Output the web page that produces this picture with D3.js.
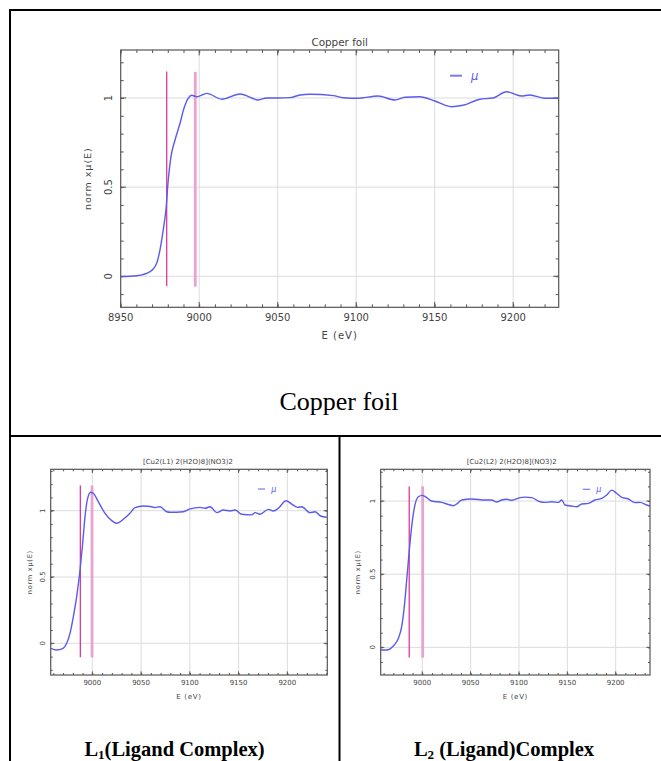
<!DOCTYPE html>
<html>
<head>
<meta charset="utf-8">
<script src="https://cdn.jsdelivr.net/npm/d3@7"></script>
<style>
  html, body { margin: 0; padding: 0; background: #fff; }
  svg { display: block; }
</style>
</head>
<body>
<svg id="chart" width="661" height="761"></svg>
<script>
// ---------------- DATA ----------------
const cuTitle = "Copper foil";
const cuE  = [8950, 8960.2, 8968.7, 8972.9, 8975, 8977.1, 8978.8, 8980.3, 8982, 8984.6, 8987.8, 8990.3, 8993, 8995.2, 8998.4, 9004.8, 9014.3, 9026, 9037.6, 9043, 9050, 9058, 9064.2, 9070.5, 9085.4, 9091.7, 9100.7, 9114, 9124.7, 9131, 9140.6, 9150.1, 9160.7, 9168, 9178.8, 9187.3, 9195.8, 9205.3, 9210.6, 9220.2, 9228.6];
const cuMu = [-0.002, 0.003, 0.026, 0.073, 0.147, 0.26, 0.372, 0.54, 0.67, 0.764, 0.858, 0.942, 0.998, 1.015, 1.007, 1.026, 0.993, 1.022, 0.989, 1.0, 1.0, 1.002, 1.017, 1.021, 1.013, 1.001, 0.998, 1.011, 0.989, 1.004, 1.007, 0.983, 0.951, 0.959, 0.993, 1.0, 1.035, 1.011, 1.017, 0.998, 0.998];
const cuEdges = [8979.3, 8997.5];

const l1Title = "[Cu2(L1) 2(H2O)8](NO3)2";
const l1E  = [8957.6, 8963.1, 8970, 8973.7, 8977.1, 8980.5, 8983.9, 8987.4, 8990.1, 8992.5, 8994.8, 8998.3, 9001, 9006.1, 9013, 9019.9, 9025, 9031.8, 9038.6, 9043.8, 9052.3, 9060.9, 9064.3, 9069.4, 9076.2, 9079.7, 9093.3, 9100.2, 9110.5, 9115.6, 9120.8, 9127.6, 9134.4, 9141.3, 9146.4, 9153.3, 9163.5, 9166.9, 9172, 9180.6, 9185.7, 9190.8, 9198.7, 9204.5, 9210.7, 9214.8, 9223.3, 9228.4, 9234.2, 9240.4];
const l1Mu = [-0.038, -0.05, -0.038, 0, 0.075, 0.2, 0.35, 0.553, 0.754, 0.955, 1.08, 1.139, 1.131, 1.068, 0.98, 0.925, 0.905, 0.935, 0.98, 1.023, 1.035, 1.03, 1.023, 1.03, 0.992, 0.988, 0.992, 1.013, 1.025, 1.018, 1.03, 0.985, 1.005, 0.998, 1.005, 0.973, 0.968, 0.985, 0.973, 1.01, 0.998, 1.018, 1.075, 1.05, 1.025, 1.03, 0.985, 0.992, 0.96, 0.95];
const l1Edges = [8987.7, 8999.7];

const l2Title = "[Cu2(L2) 2(H2O)8](NO3)2";
const l2E  = [8957, 8963.2, 8970, 8975.2, 8978.7, 8981.4, 8983.9, 8986.3, 8989, 8991.7, 8995.9, 9000, 9003.5, 9009.7, 9020.1, 9028.7, 9032.1, 9035.6, 9040.8, 9051.1, 9064.9, 9071.8, 9077, 9082.2, 9087.3, 9092.5, 9101, 9106.2, 9113.2, 9121.7, 9126.9, 9133.8, 9140.7, 9144.2, 9147.6, 9154.5, 9159.7, 9164.9, 9171.7, 9178.6, 9185.5, 9190.7, 9195.9, 9201, 9206.3, 9213.1, 9220, 9225.2, 9232.1, 9235.5];
const l2Mu = [-0.018, -0.018, 0.009, 0.061, 0.141, 0.278, 0.46, 0.643, 0.824, 0.95, 1.029, 1.039, 1.029, 1.0, 0.991, 0.973, 0.968, 0.98, 1.007, 1.014, 1.007, 1.007, 0.993, 1.007, 1.012, 1.005, 1.023, 1.027, 1.023, 0.995, 0.991, 0.995, 0.991, 1.007, 0.973, 0.966, 0.961, 0.98, 0.984, 1.007, 1.018, 1.041, 1.075, 1.053, 1.025, 1.014, 0.989, 0.991, 0.973, 0.966];
const l2Edges = [8986.5, 9000.4];

const xTickValues = [8950, 9000, 9050, 9100, 9150, 9200];
const yTickValues = [0, 0.5, 1];
const yTickLabels = ["0", "0.5", "1"];
const xAxisLabel = "E (eV)";
const yAxisLabel = "norm x\u03bc(E)";
const legendLabel = "\u03bc";
const captions = ["Copper foil", "(Ligand Complex)", " (Ligand)Complex"];

// ---------------- DRAW ----------------
const svg = d3.select("#chart");
svg.append("rect").attr("width", 661).attr("height", 761).attr("fill", "#fff");

const lineColor = "#5a5af0";
const edgeColor1 = "#e0369e";
const edgeColor2 = "#e9a2d2";
const frameColor = "#555";
const gridColor = "#dcdcdc";
const textColor = "#444";
const fontFam = "'DejaVu Sans', sans-serif";

function panel(cfg) {
  const x = d3.scaleLinear().domain(cfg.xDomain).range([cfg.x0, cfg.x1]);
  const y = d3.scaleLinear().domain(cfg.yDomain).range([cfg.y1, cfg.y0]);
  const g = svg.append("g");
  const xt = xTickValues.filter(v => v >= cfg.xDomain[0] - 0.5 && v <= cfg.xDomain[1]);

  // grid
  g.append("g").selectAll("line.gx").data(xt.filter(v => v > cfg.xDomain[0] + 1)).join("line")
    .attr("x1", d => x(d)).attr("x2", d => x(d)).attr("y1", cfg.y0).attr("y2", cfg.y1)
    .attr("stroke", gridColor).attr("stroke-width", 1);
  g.append("g").selectAll("line.gy").data(yTickValues).join("line")
    .attr("y1", d => y(d)).attr("y2", d => y(d)).attr("x1", cfg.x0).attr("x2", cfg.x1)
    .attr("stroke", gridColor).attr("stroke-width", 1);

  // minor / major ticks via axes (inward)
  const minorX = d3.range(Math.ceil(cfg.xDomain[0] / 10) * 10, cfg.xDomain[1], 10);
  const minorY = d3.range(-0.2, 1.35, 0.1).map(v => +v.toFixed(2)).filter(v => v > cfg.yDomain[0] && v < cfg.yDomain[1]);
  const tk = cfg.tick;
  const axB = d3.axisBottom(x).tickValues(minorX).tickSize(-tk).tickFormat("");
  const axT = d3.axisTop(x).tickValues(minorX).tickSize(-tk).tickFormat("");
  const axL = d3.axisLeft(y).tickValues(minorY).tickSize(-tk).tickFormat("");
  const axR = d3.axisRight(y).tickValues(minorY).tickSize(-tk).tickFormat("");
  [[axB, `translate(0,${cfg.y1})`], [axT, `translate(0,${cfg.y0})`], [axL, `translate(${cfg.x0},0)`], [axR, `translate(${cfg.x1},0)`]]
    .forEach(([ax, tr]) => {
      const a = g.append("g").attr("transform", tr).call(ax);
      a.select(".domain").remove();
      a.selectAll("line").attr("stroke", frameColor).attr("stroke-width", 1);
    });
  // major ticks longer
  g.append("g").selectAll("line").data(xt).join("line")
    .attr("x1", d => x(d)).attr("x2", d => x(d)).attr("y1", cfg.y1).attr("y2", cfg.y1 - tk * 1.8)
    .attr("stroke", frameColor);
  g.append("g").selectAll("line").data(xt).join("line")
    .attr("x1", d => x(d)).attr("x2", d => x(d)).attr("y1", cfg.y0).attr("y2", cfg.y0 + tk * 1.8)
    .attr("stroke", frameColor);
  g.append("g").selectAll("line").data(yTickValues).join("line")
    .attr("y1", d => y(d)).attr("y2", d => y(d)).attr("x1", cfg.x0).attr("x2", cfg.x0 + tk * 1.8)
    .attr("stroke", frameColor);
  g.append("g").selectAll("line").data(yTickValues).join("line")
    .attr("y1", d => y(d)).attr("y2", d => y(d)).attr("x1", cfg.x1).attr("x2", cfg.x1 - tk * 1.8)
    .attr("stroke", frameColor);

  // edge markers
  cfg.edges.forEach((e, i) => {
    g.append("line")
      .attr("x1", x(e)).attr("x2", x(e))
      .attr("y1", y(cfg.edgeY[i][1])).attr("y2", y(cfg.edgeY[i][0]))
      .attr("stroke", i === 0 ? edgeColor1 : edgeColor2)
      .attr("stroke-width", i === 0 ? 1.3 : 2.8);
  });

  // curve
  const pts = cfg.E.map((e, i) => [e, cfg.mu[i]]);
  g.append("path").datum(pts)
    .attr("d", d3.line().x(d => x(d[0])).y(d => y(d[1])).curve(d3.curveMonotoneX))
    .attr("fill", "none").attr("stroke", lineColor).attr("stroke-width", 1.4);

  // frame
  g.append("rect").attr("x", cfg.x0).attr("y", cfg.y0)
    .attr("width", cfg.x1 - cfg.x0).attr("height", cfg.y1 - cfg.y0)
    .attr("fill", "none").attr("stroke", frameColor).attr("stroke-width", 1.2);

  // tick labels
  g.append("g").selectAll("text").data(xt).join("text")
    .attr("x", d => x(d)).attr("y", cfg.xLabY)
    .attr("text-anchor", "middle").attr("font-family", fontFam).attr("font-size", cfg.fs)
    .attr("fill", textColor).text(d => d);
  g.append("g").selectAll("text").data(yTickValues).join("text")
    .attr("transform", d => `translate(${cfg.yLabX},${y(d)}) rotate(-90)`)
    .attr("text-anchor", "middle").attr("font-family", fontFam).attr("font-size", cfg.fs)
    .attr("fill", textColor).text((d, i) => yTickLabels[i]);

  // axis titles
  g.append("text").attr("x", (cfg.x0 + cfg.x1) / 2).attr("y", cfg.xTitleY)
    .attr("text-anchor", "middle").attr("font-family", fontFam).attr("font-size", cfg.fs)
    .attr("letter-spacing", cfg.fs * 0.1).attr("fill", textColor).text(xAxisLabel);
  g.append("text")
    .attr("transform", `translate(${cfg.yTitleX},${(cfg.y0 + cfg.y1) / 2}) rotate(-90)`)
    .attr("text-anchor", "middle").attr("font-family", fontFam).attr("font-size", cfg.fs * 0.95)
    .attr("letter-spacing", cfg.fs * 0.1).attr("fill", textColor).text(yAxisLabel);

  // title
  g.append("text").attr("x", cfg.titleX).attr("y", cfg.y0 - cfg.titleGap)
    .attr("text-anchor", "middle").attr("font-family", fontFam).attr("font-size", cfg.titleFs)
    .attr("fill", textColor).text(cfg.title);

  // legend
  g.append("line").attr("x1", cfg.leg[0]).attr("x2", cfg.leg[1]).attr("y1", cfg.leg[2]).attr("y2", cfg.leg[2])
    .attr("stroke", "#7b7bf5").attr("stroke-width", cfg.fs > 8 ? 2 : 1.2);
  g.append("text").attr("x", cfg.leg[1] + cfg.fs * 0.9).attr("y", cfg.leg[2] + cfg.fs * 0.45)
    .attr("font-family", fontFam).attr("font-style", "italic").attr("font-size", cfg.fs * 1.15)
    .attr("fill", "#5a5af0").text(legendLabel);
}

panel({
  title: cuTitle, titleX: 339.7, titleGap: 4, titleFs: 10.4,
  E: cuE, mu: cuMu, edges: cuEdges, edgeY: [[-0.054, 1.148], [-0.058, 1.146]],
  xDomain: [8950, 9229], yDomain: [-0.174, 1.269],
  x0: 120.7, x1: 558.7, y0: 50, y1: 307.3,
  tick: 3, fs: 10, xLabY: 321, yLabX: 112, xTitleY: 339, yTitleX: 91,
  leg: [450, 462, 75.7]
});
panel({
  title: l1Title, titleX: 188, titleGap: 5, titleFs: 7,
  E: l1E, mu: l1Mu, edges: l1Edges, edgeY: [[-0.106, 1.19], [-0.106, 1.19]],
  xDomain: [8957.3, 9241], yDomain: [-0.239, 1.312],
  x0: 50.7, x1: 327.3, y0: 469.3, y1: 675,
  tick: 2, fs: 7, xLabY: 685, yLabX: 45, xTitleY: 699, yTitleX: 32,
  leg: [258, 265, 489]
});
panel({
  title: l2Title, titleX: 511.7, titleGap: 5, titleFs: 7,
  E: l2E, mu: l2Mu, edges: l2Edges, edgeY: [[-0.07, 1.10], [-0.07, 1.10]],
  xDomain: [8957, 9235.5], yDomain: [-0.189, 1.217],
  x0: 380.7, x1: 650, y0: 469.3, y1: 675,
  tick: 2, fs: 7, xLabY: 685, yLabX: 375, xTitleY: 699, yTitleX: 360,
  leg: [582.7, 590, 489.3]
});

// table lines
const tbl = svg.append("g").attr("stroke", "#000").attr("stroke-width", 2).attr("fill", "none");
tbl.append("line").attr("x1", 10).attr("x2", 10).attr("y1", 9).attr("y2", 761);
tbl.append("line").attr("x1", 9).attr("x2", 661).attr("y1", 10).attr("y2", 10);
tbl.append("line").attr("x1", 9).attr("x2", 661).attr("y1", 436).attr("y2", 436);
tbl.append("line").attr("x1", 339.5).attr("x2", 339.5).attr("y1", 436).attr("y2", 761);

// captions
const serif = "'Liberation Serif', 'Times New Roman', serif";
svg.append("text").attr("x", 339).attr("y", 410).attr("text-anchor", "middle")
  .attr("font-family", serif).attr("font-size", 26).attr("fill", "#000").text(captions[0]);
const c1 = svg.append("text").attr("x", 174.5).attr("y", 756).attr("text-anchor", "middle")
  .attr("font-family", serif).attr("font-size", 20.5).attr("font-weight", "bold").attr("fill", "#000");
c1.append("tspan").text("L");
c1.append("tspan").attr("font-size", 13).attr("dy", 3).text("1");
c1.append("tspan").attr("dy", -3).text(captions[1]);
const c2 = svg.append("text").attr("x", 504).attr("y", 756).attr("text-anchor", "middle")
  .attr("font-family", serif).attr("font-size", 20.5).attr("font-weight", "bold").attr("fill", "#000");
c2.append("tspan").text("L");
c2.append("tspan").attr("font-size", 13).attr("dy", 3).text("2");
c2.append("tspan").attr("dy", -3).text(captions[2]);
</script>
</body>
</html>
